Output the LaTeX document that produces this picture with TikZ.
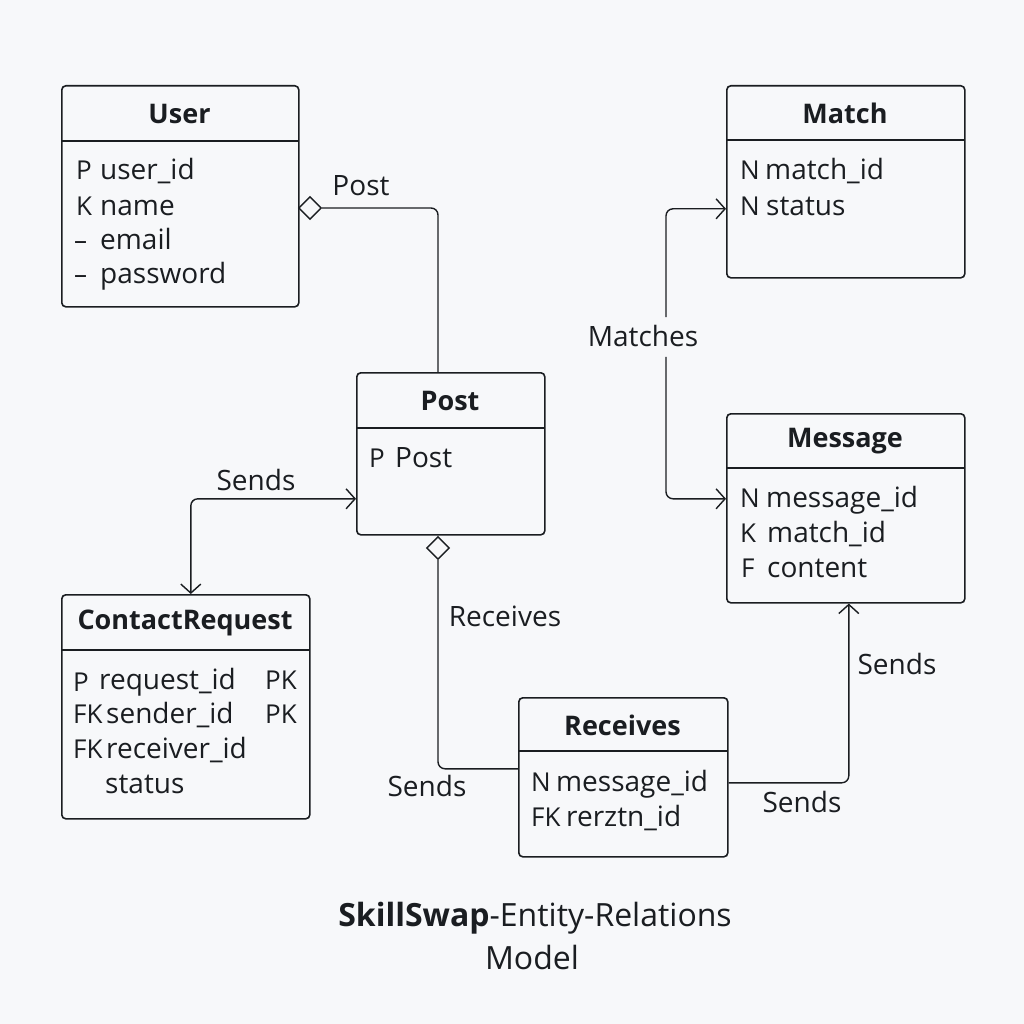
\documentclass[tikz,border=0pt]{standalone}
\usepackage{fontspec}
\setmainfont{Open Sans}
\usetikzlibrary{arrows.meta,shapes.geometric}
\definecolor{bg}{HTML}{F7F8FA}
\definecolor{ink}{HTML}{1A1D21}
\tikzset{
  box/.style={draw=ink, line width=1.6pt, rounded corners=4pt, fill=bg, inner sep=0pt},
  divline/.style={draw=ink, line width=1.6pt},
  ttl/.style={font=\fontsize{27}{30}\selectfont\bfseries, text=ink, inner sep=0pt},
  row/.style={font=\fontsize{28}{32}\selectfont, text=ink, inner sep=0pt, anchor=west, text height=20pt, text depth=6pt},
  pre/.style={font=\fontsize{26}{28}\selectfont, text=ink, inner sep=0pt, anchor=west, text height=20pt, text depth=6pt},
  lbl/.style={font=\fontsize{28}{32}\selectfont, text=ink, inner sep=0pt},
  conn/.style={draw=ink, line width=1.4pt, rounded corners=7pt},
  tip/.tip={Straight Barb[length=9pt,width=20pt,line width=1.4pt]},
  diam/.style={draw=ink, line width=1.4pt, shape=diamond, minimum width=23pt, minimum height=23pt, inner sep=0pt, fill=bg},
}
\newcommand\erbox[7]{%
  \node[box, minimum width=#4pt-#2pt, minimum height=#5pt-#3pt, anchor=north west] (#1) at (#2,#3) {};
  \draw[divline] (#2,#6) -- (#4,#6);
  \node[ttl] (#1t) at ({(#2+#4)/2},{(#3+#6)/2+1}) {#7};
}
\begin{document}
\begin{tikzpicture}[x=1pt,y=-1pt]
\fill[bg] (0,0) rectangle (1024,1024);
\useasboundingbox (0,0) rectangle (1024,1024);

% User
\erbox{user}{61}{85}{298}{306}{141}{User}
\node[pre] (u1a) at (76,173) {P};
\node[row] (u1b) at (100,173) {user\_id};
\node[pre] (u2a) at (76,208) {K};
\node[row] (u2b) at (100,208) {name};
\node[pre] (u3a) at (74,242) {–};
\node[row] (u3b) at (100,242) {email};
\node[pre] (u4a) at (74,276) {–};
\node[row] (u4b) at (100,276) {password};

% Match
\erbox{match}{726}{85}{964}{277}{140}{Match}
\node[pre] (m1a) at (740,173) {N};
\node[row] (m1b) at (765,173) {match\_id};
\node[pre] (m2a) at (740,208) {N};
\node[row] (m2b) at (766,208) {status};

% Post
\erbox{post}{356}{372}{544}{534}{428}{Post}
\node[pre] (p1a) at (369,460) {P};
\node[row] (p1b) at (395,460) {Post};

% Message
\erbox{msg}{726}{413}{964}{602}{468}{Message}
\node[pre] (g1a) at (740,500) {N};
\node[row] (g1b) at (766,500) {message\_id};
\node[pre] (g2a) at (740,535) {K};
\node[row] (g2b) at (767,535) {match\_id};
\node[pre] (g3a) at (741,570) {F};
\node[row] (g3b) at (767,570) {content};

% ContactRequest
\erbox{cr}{61}{594}{309}{818}{650}{ContactRequest}
\node[pre] (c1a) at (73,684) {P};
\node[row] (c1b) at (99,682) {request\_id};
\node[pre] (c1c) at (265,682) {PK};
\node[pre] (c2a) at (73,716) {FK};
\node[row] (c2b) at (106,716) {sender\_id};
\node[pre] (c2c) at (265,716) {PK};
\node[pre] (c3a) at (73,751) {FK};
\node[row] (c3b) at (106,751) {receiver\_id};
\node[row] (c4b) at (105,786) {status};

% Receives
\erbox{recv}{518}{697}{727}{856}{751}{Receives}
\node[pre] (r1a) at (531,784) {N};
\node[row] (r1b) at (556,784) {message\_id};
\node[pre] (r2a) at (531,819) {FK};
\node[row] (r2b) at (566,819) {rerztn\_id};

% Diamonds
\node[diam] (d1) at (310,208) {};
\node[diam] (d2) at (438,548) {};

% Labels
\node[lbl] (lpost) at (361,186) {Post};
\node[lbl] (lsend1) at (256,480) {Sends};
\node[lbl] (lrec) at (505,616) {Receives};
\node[lbl] (lsend2) at (427,786) {Sends};
\node[lbl] (lmat) at (643,336) {Matches};
\node[lbl] (lsend3) at (897,664) {Sends};
\node[lbl] (lsend4) at (802,802) {Sends};

% Connectors
\draw[conn] (d1.east) -| ([xshift=82pt]post.north west);
\draw[conn, {tip}-{tip}] ([xshift=5pt]cr.north) |- ([yshift=-45pt]post.west);
\draw[conn] (d2.south) |- ([yshift=8.5pt]recv.west);
\draw[conn, -{tip}] ([xshift=23pt,yshift=8pt]lmat.north) |- ([yshift=-27pt]match.west);
\draw[conn, -{tip}] ([xshift=23pt,yshift=-10pt]lmat.south) |- ([yshift=9.5pt]msg.west);
\draw[conn, -{tip}] ([yshift=-5.5pt]recv.east) -| ([xshift=3pt]msg.south);

% Title
\node[font=\fontsize{32}{36}\selectfont, text=ink, inner sep=0pt] (title1) at (535,918) {\textbf{SkillSwap}-Entity-Relations};
\node[font=\fontsize{32}{36}\selectfont, text=ink, inner sep=0pt] (title2) at (532,957) {Model};
\end{tikzpicture}
\end{document}
